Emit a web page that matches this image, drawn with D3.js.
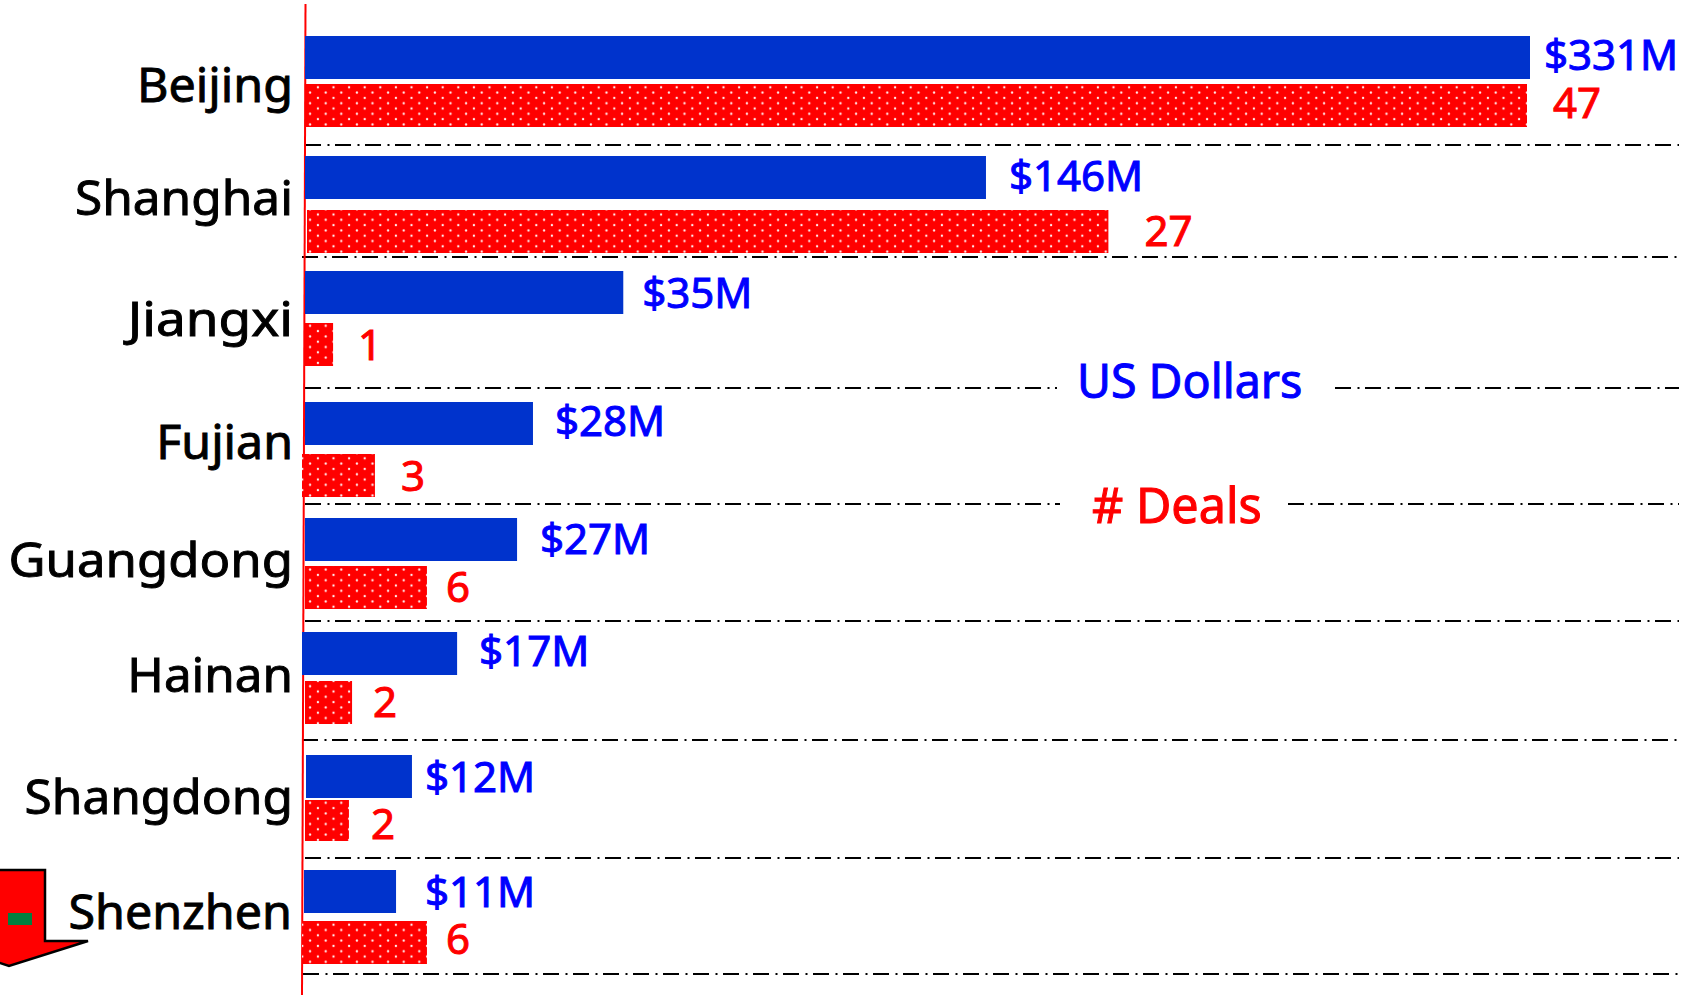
<!DOCTYPE html>
<html><head><meta charset="utf-8">
<script src="https://cdn.jsdelivr.net/npm/d3@7"></script>
<style>html,body{margin:0;padding:0;background:#fff}svg{display:block}text{font-family:"Noto Sans",sans-serif}</style>
</head><body><svg id="c" width="1690" height="995"></svg>
<script>
// ---- data ----
const categories = ["Beijing","Shanghai","Jiangxi","Fujian","Guangdong","Hainan","Shangdong","Shenzhen"];
const dollarValues = [331,146,35,28,27,17,12,11];
const dealValues = [47,27,1,3,6,2,2,6];
// Bar lengths as actually drawn in the picture (the original's bars are not to a single scale)
const dollarBarLengths = [331,184,86,61.6,57.3,41.1,28.9,24.6];
const dealBarLengths = [47,30.9,1.08,2.69,4.69,1.81,1.69,4.69];
const legendLabels = ["US Dollars","# Deals"];

// ---- hand-placement offsets of the original slide (px), relative to the scales ----
const rowNudge = [0,1,-3,9,6,1,5,1];
const dollarStartNudge = [0,0,0,0,0,-3,1,-1];
const dealStartNudge = [0,2,0,-3,0,0,0,-3];
const dealTopNudge = [0,6,4,4,0,1,-3,3];
const dealHeightNudge = [0,0,0,0,0,0,-2,0];
const catBaseNudge = [0,-7,-1,-9,-7,-6,-7,-7];
const catStretch = [1.03,1.055,1.13,1.027,1.082,1.05,1.055,1.03];
const catRightNudge = [2,2,2,2,2,2,2,1];
const dollarLabelGap = [14,23,19,22,23,22,13,29];
const dollarLabelBase = [34,35,37,34,36,34,37,37];
const dealLabelGap = [26,36,25,26,19,21,22,19];
const dealLabelBase = [34,36,37,37,36,36,39,33];
const ruleNudge = [0,-7,5,2,0,0,-1,-4];
const ruleStartNudge = [0,-3,0,0,0,-3,0,-2];
const ruleGaps = {2:[1057,1335],3:[1060,1288]};

const svg = d3.select("#c");
const defs = svg.append("defs");
const Px = 15.6, Py = 10.6;
const pat = defs.append("pattern").attr("id","dots").attr("patternUnits","userSpaceOnUse")
  .attr("width",Px).attr("height",Py)
  .attr("patternTransform",`translate(${614.3%Px},${87.3%Py})`);
pat.append("rect").attr("width",Px).attr("height",Py).attr("fill","#ff0000");
pat.selectAll("circle").data([[0,0],[Px,0],[0,Py],[Px,Py],[Px/2,Py/2]]).join("circle")
  .attr("cx",d=>d[0]).attr("cy",d=>d[1]).attr("r",1.15).attr("fill","#fff0f0");

const y = d3.scaleBand().domain(categories).range([36,988]);
const barH = 43;
const xDollar = d3.scaleLinear().domain([0,331]).range([305,1530]);
const xDeals = d3.scaleLinear().domain([0,47]).range([305,1527]);
const rowTop = (c,i)=>y(c)+rowNudge[i];
const line = d3.line();
const heavy = (sel,color,w)=>sel.attr("fill",color).attr("stroke",color).attr("stroke-width",w);

// dash-dot rules below each row
const ruleGroup = svg.append("g");
categories.forEach((c,i)=>{
  const yy = y(c)+109+ruleNudge[i];
  const x0 = 305+ruleStartNudge[i], x1 = 1679;
  const segs = ruleGaps[i] ? [[x0,ruleGaps[i][0]],[ruleGaps[i][1],x1]] : [[x0,x1]];
  segs.forEach(s=>{
    ruleGroup.append("path").attr("d",line([[s[0],yy],[s[1],yy]]))
      .attr("stroke","#000").attr("stroke-width",2.2).attr("fill","none")
      .attr("stroke-dasharray","16 6.5 2 5.5");
  });
});

// axis line
svg.append("path").attr("d",line([[305.5,4],[302,995]])).attr("stroke","#ff0000").attr("stroke-width",2).attr("fill","none");

// bars
svg.append("g").selectAll("rect").data(categories).join("rect")
  .attr("x",(c,i)=>xDollar(0)+dollarStartNudge[i])
  .attr("y",(c,i)=>rowTop(c,i))
  .attr("width",(c,i)=>xDollar(dollarBarLengths[i])-xDollar(0)-dollarStartNudge[i])
  .attr("height",barH).attr("fill","#0033cc");
svg.append("g").selectAll("rect").data(categories).join("rect")
  .attr("x",(c,i)=>xDeals(0)+dealStartNudge[i])
  .attr("y",(c,i)=>rowTop(c,i)+48+dealTopNudge[i])
  .attr("width",(c,i)=>xDeals(dealBarLengths[i])-xDeals(0)-dealStartNudge[i])
  .attr("height",(c,i)=>barH+dealHeightNudge[i]).attr("fill","url(#dots)");

// value labels
svg.append("g").selectAll("text").data(categories).join("text")
  .attr("x",(c,i)=>xDollar(dollarBarLengths[i])+dollarLabelGap[i])
  .attr("y",(c,i)=>rowTop(c,i)+dollarLabelBase[i])
  .attr("font-size",42)
  .call(heavy,"#0000ff",1)
  .text((c,i)=>`$${dollarValues[i]}M`);
svg.append("g").selectAll("text").data(categories).join("text")
  .attr("x",(c,i)=>xDeals(dealBarLengths[i])+dealLabelGap[i])
  .attr("y",(c,i)=>rowTop(c,i)+48+dealTopNudge[i]+dealLabelBase[i])
  .attr("font-size",42)
  .call(heavy,"#ff0000",1)
  .text((c,i)=>dealValues[i]);

// category labels
svg.append("g").selectAll("text").data(categories).join("text")
  .attr("x",(c,i)=>291+catRightNudge[i]).attr("text-anchor","end")
  .attr("y",(c,i)=>rowTop(c,i)+66+catBaseNudge[i])
  .attr("font-size",47)
  .call(heavy,"#000",0.9)
  .text(c=>c)
  .each(function(c,i){
    const len = this.getComputedTextLength();
    d3.select(this).attr("textLength",len*catStretch[i]).attr("lengthAdjust","spacingAndGlyphs");
  });

// legend text
svg.append("text").attr("x",1077).attr("y",398).attr("font-size",46.5).call(heavy,"#0000ff",1).text(legendLabels[0]);
svg.append("text").attr("x",1092).attr("y",523).attr("font-size",48.5).call(heavy,"#ff0000",1).text(legendLabels[1]);

// down arrow marker
svg.append("path").attr("d",line([[-6,870],[45,870],[45,941],[88,941],[9,966],[-6,961]]))
  .attr("fill","#ff0000").attr("stroke","#000").attr("stroke-width",2.5);
svg.append("rect").attr("x",8).attr("y",913).attr("width",24).attr("height",12).attr("fill","#008040");
</script></body></html>
